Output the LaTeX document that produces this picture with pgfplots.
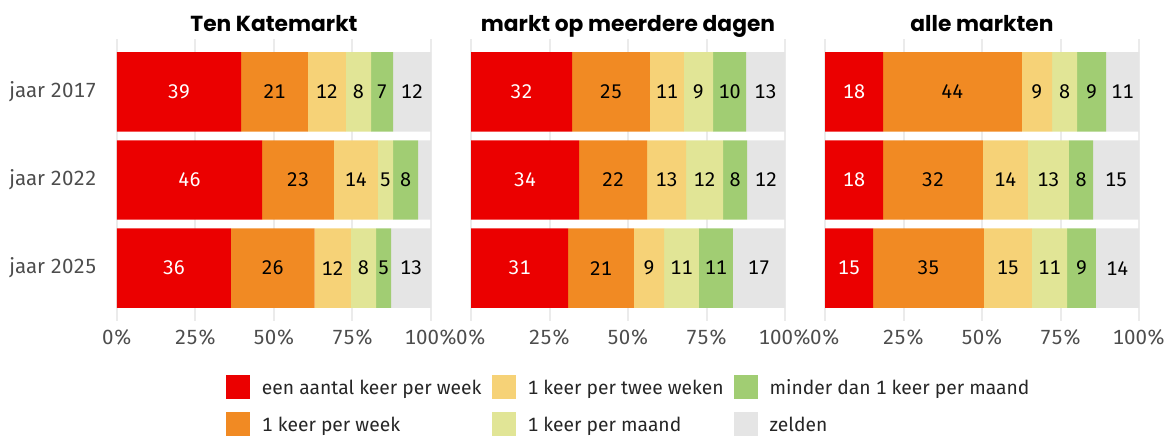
\documentclass[border=0pt]{standalone}
\usepackage{fontspec}
\setmainfont{Fira Sans}[Numbers=Monospaced]
\newfontfamily\titlefont{Poppins}
\usepackage{pgfplots}
\usepackage{pgfplotstable}
\pgfplotsset{compat=1.18}

\definecolor{cRed}{RGB}{235,0,0}
\definecolor{cOrange}{RGB}{241,138,35}
\definecolor{cYellow}{RGB}{246,210,119}
\definecolor{cLgreen}{RGB}{225,229,150}
\definecolor{cGreen}{RGB}{161,205,115}
\definecolor{cGray}{RGB}{229,229,229}
\definecolor{cGrid}{RGB}{235,235,235}
\definecolor{cTick}{RGB}{77,77,77}

% rows: 0 = 2017, 1 = 2022, 2 = 2025
% a..f = share (%) per answer, la..lf = printed label
\pgfplotstableread{
y a    b    c    d   e   f    la lb lc ld le lf
0 39.5 21.3 12.1 8.0 7.0 12.1 39 21 12 8  7  12
1 46.2 22.9 14.0 4.8 8.0 4.1  46 23 14 5  8  4
2 36.3 26.6 11.6 8.0 4.8 12.7 36 26 12 8  5  13
}\tenkate
\pgfplotstableread{
y a    b    c    d    e    f    la lb lc ld le lf
0 32.2 24.8 10.8 9.3  10.5 12.4 32 25 11 9  10 13
1 34.4 21.7 12.4 11.8 7.6  12.1 34 22 13 12 8  12
2 30.9 21.0 9.6  11.1 10.8 16.6 31 21 9  11 11 17
}\meerdaags
\pgfplotstableread{
y a    b    c    d    e   f    la lb lc ld le lf
0 18.5 44.2 9.6  8.0  9.2 10.5 18 44 9  8  9  11
1 18.5 31.8 14.3 13.1 7.7 14.6 18 32 14 13 8  15
2 15.3 35.3 15.3 11.2 9.2 13.7 15 35 15 11 9  14
}\alle

\pgfplotsset{
  panel/.style={
    xbar stacked, scale only axis,
    width=125.6pt, height=112.8pt,
    xmin=0, xmax=100, ymin=-0.6, ymax=2.6, y dir=reverse,
    bar width=0.9,
    /pgf/number format/assume math mode=true,
    xtick={0,25,50,75,100}, xticklabels={0\%,25\%,50\%,75\%,100\%},
    ytick={0,1,2},
    axis line style={draw=none}, major tick length=0pt,
    xmajorgrids, grid style={draw=cGrid, line width=0.8pt},
    ticklabel style={font=\fontsize{8.2}{10}\selectfont, text=cTick},
    xticklabel style={anchor=north, inner sep=0pt, yshift=-3.2pt},
    yticklabel style={anchor=east, inner sep=0pt, xshift=-8pt},
    title style={font=\titlefont\fontsize{8.7}{11}\selectfont\bfseries, at={(0.5,1)},
      anchor=base, yshift=-2.8pt, inner sep=0pt},
  },
  seg/.style={draw=none, forget plot,
    visualization depends on={\thisrow{l#1} \as \lab},
    nodes near coords={\ifdim\lab pt<4.5pt\relax\else\pgfmathprintnumber{\lab}\fi},
    every node near coord/.append style={anchor=center, inner sep=0pt,
      font=\fontsize{7.9}{9}\selectfont, text=black},
  },
  legsq/.style={legend image code/.code={\fill (0pt,-2pt) rectangle (9.6pt,7.6pt);}},
}

\newcommand{\segments}[1]{%
  \addplot[seg=a, fill=cRed, every node near coord/.append style={text=white}] table[x=a,y=y]{#1};
  \addplot[seg=b, fill=cOrange] table[x=b,y=y]{#1};
  \addplot[seg=c, fill=cYellow] table[x=c,y=y]{#1};
  \addplot[seg=d, fill=cLgreen] table[x=d,y=y]{#1};
  \addplot[seg=e, fill=cGreen] table[x=e,y=y]{#1};
  \addplot[seg=f, fill=cGray] table[x=f,y=y]{#1};
}

\begin{document}
\begin{tikzpicture}
\useasboundingbox (-46.8pt,-46pt) rectangle (422.4pt,128.4pt);

\begin{axis}[panel, at={(0pt,0pt)}, anchor=south west,
    title={Ten Katemarkt},
    yticklabels={jaar 2017, jaar 2022, jaar 2025},
    legend columns=3, legend cell align=left,
    legend style={at={(0.347,-0.1915)}, anchor=north west,
      draw=none, fill=none, inner sep=0pt, outer sep=0pt,
      font=\fontsize{7.7}{9}\selectfont, text=black!85,
      row sep=5.2pt, column sep=0pt,
      /tikz/every odd column/.style={column sep=4.8pt},
      /tikz/every even column/.style={column sep=4pt},
      nodes={inner sep=0pt, anchor=base west}},
]
\segments{\tenkate}
\addlegendimage{legsq, fill=cRed, draw=none}
\addlegendimage{legsq, fill=cYellow, draw=none}
\addlegendimage{legsq, fill=cGreen, draw=none}
\addlegendimage{legsq, fill=cOrange, draw=none}
\addlegendimage{legsq, fill=cLgreen, draw=none}
\addlegendimage{legsq, fill=cGray, draw=none}
\legend{een aantal keer per week, 1 keer per twee weken, minder dan 1 keer per maand,
        1 keer per week, 1 keer per maand, zelden}
\end{axis}

\begin{axis}[panel, at={(141.6pt,0pt)}, anchor=south west,
    title={markt op meerdere dagen}, yticklabels={}]
\segments{\meerdaags}
\end{axis}

\begin{axis}[panel, at={(283.2pt,0pt)}, anchor=south west,
    title={alle markten}, yticklabels={}]
\segments{\alle}
\end{axis}
\end{tikzpicture}
\end{document}
